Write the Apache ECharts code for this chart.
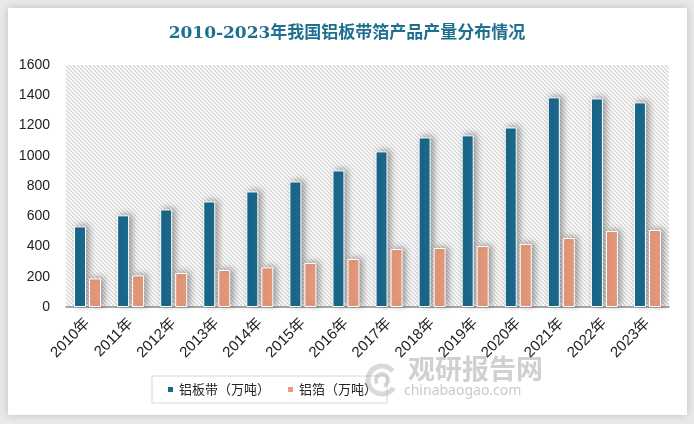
<!DOCTYPE html>
<html><head><meta charset="utf-8">
<script src="https://cdn.jsdelivr.net/npm/echarts@6/dist/echarts.min.js"></script>
<style>html,body{margin:0;padding:0;background:#e9e9e9;}#c{width:694px;height:424px;}</style>
</head><body><div id="c"></div>
<script>
const categories = ['2010年','2011年','2012年','2013年','2014年','2015年','2016年','2017年','2018年','2019年','2020年','2021年','2022年','2023年'];
const plateStrip = [533,606,645,698,764,830,903,1029,1121,1135,1187,1386,1379,1353];
const foil = [189,209,225,245,262,291,317,383,390,403,417,456,502,509];
const yTicks = [0,200,400,600,800,1000,1200,1400,1600];

const pc = document.createElement('canvas');
pc.width = 4; pc.height = 4;
const g = pc.getContext('2d');
g.fillStyle = '#ffffff'; g.fillRect(0,0,4,4);
g.strokeStyle = '#cfcfcf'; g.lineWidth = 1.2;
g.beginPath(); g.moveTo(-1,-1); g.lineTo(5,5); g.moveTo(-1,3); g.lineTo(1,5); g.moveTo(3,-1); g.lineTo(5,1); g.stroke();

const chart = echarts.init(document.getElementById('c'));
chart.setOption({
  backgroundColor: '#e9e9e9',
  animation: false,
  graphic: [
    {type:'rect', shape:{x:8,y:8,width:679,height:407}, style:{fill:'#ffffff', shadowBlur:8, shadowColor:'rgba(0,0,0,0.18)'}, z:-10},
    {type:'text', left:408, top:355, style:{text:'观研报告网', font:'bold 27px "Noto Sans CJK SC"', fill:'rgba(150,150,150,0.45)'}, z:100},
    {type:'text', left:404, top:384, style:{text:'chinabaogao.com', font:'14px "Noto Sans"', fill:'rgba(150,150,150,0.5)'}, z:100},
    {type:'arc', shape:{cx:382, cy:380, r:14, startAngle:0.6, endAngle:5.6}, style:{fill:'none', stroke:'rgba(160,160,160,0.4)', lineWidth:5}, z:100},
    {type:'arc', shape:{cx:382, cy:380, r:6, startAngle:2.5, endAngle:7.5}, style:{fill:'none', stroke:'rgba(160,160,160,0.4)', lineWidth:4}, z:100}
  ],
  title: {
    text: '2010-2023年我国铝板带箔产品产量分布情况',
    left: 'center', top: 20,
    textStyle: {fontFamily:'"DejaVu Serif","Noto Sans CJK SC"', fontSize:17, fontWeight:'bold', color:'#1f6f8f'}
  },
  grid: {left:66, right:25, top:65, bottom:117, show:true, borderWidth:0, backgroundColor:{image:pc, repeat:'repeat'}},
  legend: {
    top: 376, left: 152, itemWidth:7, itemHeight:7, itemGap:16,
    padding:[7,10,7,14],
    borderColor:'#d6d6d6', borderWidth:1, icon:'rect',
    textStyle:{fontSize:13, color:'#222', fontFamily:'"Noto Sans CJK SC"'},
    data:['铝板带（万吨）','铝箔（万吨）']
  },
  xAxis: {
    type:'category', data: categories,
    axisLine:{lineStyle:{color:'#8c8c8c', width:1.5}},
    axisTick:{show:false},
    axisLabel:{rotate:45, fontSize:15, color:'#222', margin:14, interval:0, fontFamily:'"Liberation Sans","Noto Sans CJK SC"'}
  },
  yAxis: {
    type:'value', min:0, max:1600, interval:200,
    axisLine:{show:false}, axisTick:{show:false}, splitLine:{show:false},
    axisLabel:{fontSize:14, color:'#222', margin:16, fontFamily:'"Liberation Sans"',
      formatter: v => yTicks.includes(v) ? String(v) : ''}
  },
  series: [
    {name:'铝板带（万吨）', type:'bar', data: plateStrip, barWidth:12, barGap:'25%',
     itemStyle:{color:'#1b6a8e', borderColor:'#ffffff', borderWidth:1, shadowBlur:6, shadowOffsetX:3, shadowOffsetY:-1, shadowColor:'rgba(0,0,0,0.35)'}},
    {name:'铝箔（万吨）', type:'bar', data: foil, barWidth:12,
     itemStyle:{color:'#e89b7b', borderColor:'#ffffff', borderWidth:1, shadowBlur:6, shadowOffsetX:3, shadowOffsetY:-1, shadowColor:'rgba(0,0,0,0.35)'}}
  ]
});
</script></body></html>
